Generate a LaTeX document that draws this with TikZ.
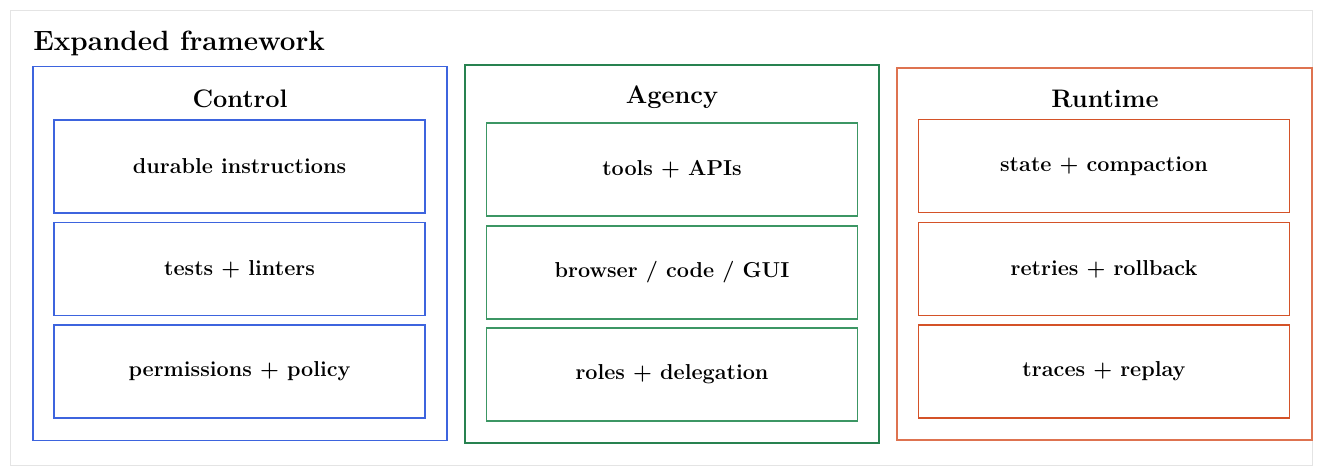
\documentclass[tikz,border=0pt]{standalone}
\usepackage{tikz}

\definecolor{ctrlblue}{RGB}{61,100,222}
\definecolor{agencygreen}{RGB}{40,130,80}
\definecolor{agencygreenlt}{RGB}{60,150,100}
\definecolor{runorange}{RGB}{212,82,40}
\definecolor{runorangelt}{RGB}{222,115,80}
\definecolor{framegray}{RGB}{228,228,228}

\tikzset{
	column/.style={draw=#1, line width=0.9pt, rectangle, minimum width=310.5pt, minimum height=280pt},
	item/.style={draw=#1, line width=0.9pt, rectangle, minimum width=278.25pt, minimum height=69.75pt,
		font=\fontsize{16.2}{19}\selectfont\bfseries},
	coltitle/.style={font=\fontsize{19}{23}\selectfont\bfseries},
}

\begin{document}
\begin{tikzpicture}[x=0.75pt, y=-0.75pt]
	\useasboundingbox (0,0) rectangle (1323,475);
	\draw[framegray, line width=0.9pt] (10.5,10.5) rectangle (1312.5,465.5);
	\node[anchor=west, inner sep=0pt, font=\fontsize{20.9}{25}\selectfont\bfseries] (title) at (33,43) {Expanded framework};

	% columns
	\node[column=ctrlblue] (control) at (240,253.5) {};
	\node[column=agencygreen, minimum height=283.5pt] (agency) at (672,254) {};
	\node[column=runorangelt, minimum width=311.25pt, minimum height=279pt] (runtime) at (1104.5,254) {};

	\node[coltitle] (controlT) at (240,99) {Control};
	\node[coltitle] (agencyT) at (672,97) {Agency};
	\node[coltitle] (runtimeT) at (1105,99) {Runtime};

	% control
	\node[item=ctrlblue] (c1) at (239.5,166.5) {durable instructions};
	\node[item=ctrlblue] (c2) at (239.5,269) {tests + linters};
	\node[item=ctrlblue] (c3) at (239.5,371.5) {permissions + policy};

	% agency
	\node[item=agencygreenlt] (a1) at (672,169.5) {tools + APIs};
	\node[item=agencygreenlt] (a2) at (672,272.5) {browser / code / GUI};
	\node[item=agencygreenlt] (a3) at (672,374.5) {roles + delegation};

	% runtime
	\node[item=runorange] (r1) at (1104,166) {state + compaction};
	\node[item=runorange] (r2) at (1104,269) {retries + rollback};
	\node[item=runorange] (r3) at (1104,371.5) {traces + replay};
\end{tikzpicture}
\end{document}
